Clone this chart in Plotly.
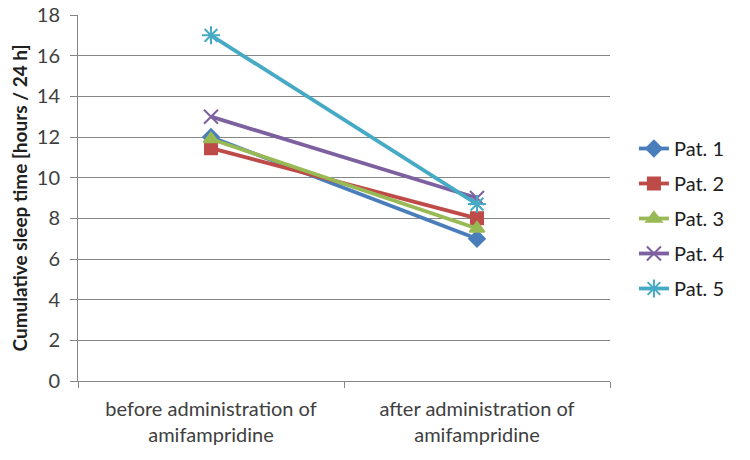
import plotly.graph_objects as go

categories = ["before administration of<br>amifampridine", "after administration of<br>amifampridine"]
patients = ["Pat. 1", "Pat. 2", "Pat. 3", "Pat. 4", "Pat. 5"]
pat1 = [12.0, 7.0]
pat2 = [11.45, 8.0]
pat3 = [11.9, 7.5]
pat4 = [13.0, 9.0]
pat5 = [17.0, 8.7]
series = [pat1, pat2, pat3, pat4, pat5]
colors = ["#4A7EBB", "#BE4B48", "#98B954", "#7D60A0", "#46AAC5"]
symbols = ["diamond", "square", "triangle-up", "x-thin-open", "asterisk-open"]
sizes = [12, 12, 13, 14, 15]

fig = go.Figure()
for name, vals, c, s, sz in zip(patients, series, colors, symbols, sizes):
    fig.add_trace(go.Scatter(
        x=categories, y=vals, name=name, mode="lines+markers", legendgroup=name,
        line=dict(color=c, width=3.8),
        marker=dict(symbol=s, size=sz, color=c, line=dict(color=c, width=2)),
    ))

font = "Lato, 'Open Sans', sans-serif"
fig.update_layout(
    width=750, height=460,
    margin=dict(l=78, r=140, t=15, b=79),
    paper_bgcolor="white", plot_bgcolor="white",
    font=dict(family=font, size=20, color="#404040"),
    legend=dict(x=1.045, y=0.444, xanchor="left", yanchor="middle",
                font=dict(size=20, color="#202020"), tracegroupgap=6),
    showlegend=True,
)
fig.update_xaxes(
    type="category", range=[-0.5, 1.5], tickson="boundaries", ticks="outside", ticklen=6,
    tickcolor="#868686", showline=True, linecolor="#868686", linewidth=1,
    showgrid=False, tickfont=dict(size=20, color="#404040"),
    automargin=False, ticklabelstandoff=10,
)
fig.update_yaxes(
    range=[0, 18], dtick=2, ticks="outside", ticklen=7, tickcolor="#868686",
    showline=True, linecolor="#868686", linewidth=1,
    showgrid=True, gridcolor="#868686", gridwidth=1, zeroline=False,
    title=dict(text="<b>Cumulative sleep time [hours / 24 h]</b>", font=dict(size=19, color="#202020"), standoff=4),
    tickfont=dict(size=20, color="#404040"), ticklabelstandoff=6, automargin=False,
)
fig.write_html("out.html")
